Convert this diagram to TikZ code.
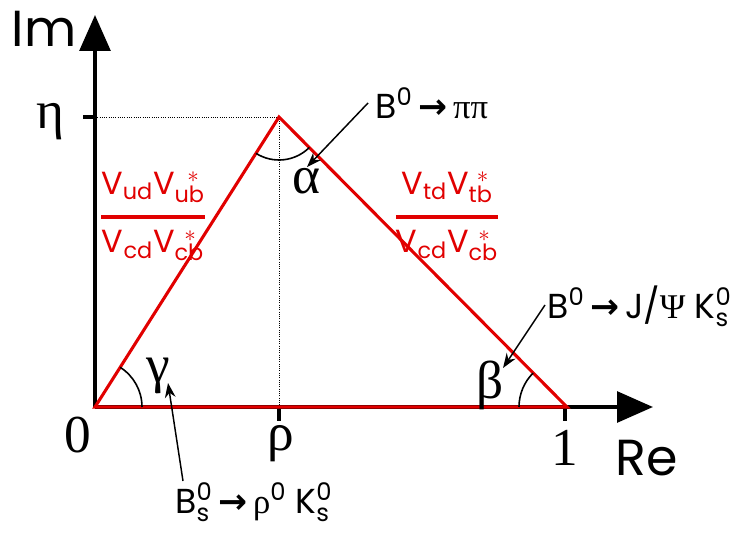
\documentclass[tikz,border=0pt]{standalone}
\usepackage{fontspec}
\setsansfont{Poppins}
\newfontfamily\grk{Liberation Serif}
\newfontfamily\arrowfont{DejaVu Sans}
\usetikzlibrary{arrows.meta}
\definecolor{ckmred}{RGB}{225,0,0}
\newcommand{\dto}{\,{\arrowfont\bfseries →}\,}

\begin{document}
\begin{tikzpicture}[x=0.75pt,y=0.75pt,
  axis/.style={line width=3pt,-{Triangle[length=27pt,width=23pt]}},
  side/.style={ckmred,line width=2.3pt,line join=miter},
  guide/.style={densely dotted,line width=0.7pt},
  tick/.style={line width=3pt},
  angarc/.style={line width=1.2pt},
  ptr/.style={line width=1.1pt,-{Stealth[length=11pt,width=8pt]}},
  axlabel/.style={font=\sffamily\fontsize{38}{40}\selectfont,anchor=base,inner sep=0pt},
  greek/.style={font=\grk\fontsize{40}{42}\selectfont,anchor=base,inner sep=0pt},
  decay/.style={font=\sffamily\fontsize{26}{29}\selectfont,anchor=base west,inner sep=0pt},
  ratio/.style={text=ckmred,font=\fontsize{24}{28}\selectfont,inner sep=0pt}]

\useasboundingbox (0,0) rectangle (737,533);

\coordinate (orig) at (95,126);
\coordinate (apex) at (279,416);
\coordinate (unit) at (567,126);
\coordinate (imtip) at (95,518);
\coordinate (retip) at (653,126);

% axes, ticks and guides
\draw[axis] (orig) -- (imtip);
\draw[axis] (orig) -- (retip);
\draw[tick] (83,416) -- (95,416);
\draw[tick] (279,126) -- (279,112);
\draw[tick] (565,126) -- (565,112);
\draw[guide] (95,416) -- (apex) -- (279,126);

% the triangle
\draw[side] (orig) -- (apex) -- (unit) -- cycle;

% angles
\draw[angarc] (apex) ++(237.6:43) arc[start angle=237.6, end angle=315, radius=43];
\draw[angarc] (orig) ++(0:47) arc[start angle=0, end angle=57.6, radius=47];
\draw[angarc] (unit) ++(135:48) arc[start angle=135, end angle=180, radius=48];

\node[axlabel] (im) at (44,486) {Im};
\node[axlabel] (re) at (647,58) {Re};
\node[greek] (eta) at (50,405) {η};
\node[greek] (zero) at (78,81) {0};
\node[greek] (rho) at (281,83) {ρ};
\node[greek] (one) at (565,68) {1};
\node[greek] (alpha) at (306,340) {α};
\node[greek] (gamma) at (158,151) {γ};
\node[greek] (beta) at (490,135) {β};

\node[ratio] (vub) at (153,317) {$\displaystyle{\mathsf{V}_{\mathsf{ud}}\mathsf{V}_{\mathsf{ub}}^{\hphantom{u}*}
  \above 3pt \mathsf{V}_{\mathsf{cd}}\mathsf{V}_{\mathsf{cb}}^{\hphantom{c}*}}$};
\node[ratio] (vtd) at (447,317) {$\displaystyle{\mathsf{V}_{\mathsf{td}}\mathsf{V}_{\mathsf{tb}}^{\hphantom{t}*}
  \above 3pt \mathsf{V}_{\mathsf{cd}}\mathsf{V}_{\mathsf{cb}}^{\hphantom{c}*}}$};

% decay channels
\node[decay] (bpipi) at (375,415) {B$^{\mathsf{0}}$\dto{\grk ππ}};
\node[decay] (bjpsi) at (547,215) {B$^{\mathsf{0}}$\dto J/{\grk Ψ} K$^{\mathsf{0}}_{\mathsf{s}}$};
\node[decay] (bsrho) at (175,20) {B$^{\mathsf{0}}_{\mathsf{s}}$\dto{\grk ρ}$^{\mathsf{0}}$ K$^{\mathsf{0}}_{\mathsf{s}}$};

\coordinate (alphatip) at (307,366);
\coordinate (betatip) at (503,165);
\coordinate (gammatip) at (168,150);
\draw[ptr] (368,430) -- (alphatip);
\draw[ptr] (545,228) -- (betatip);
\draw[ptr] (183,52) -- (gammatip);

\end{tikzpicture}
\end{document}
